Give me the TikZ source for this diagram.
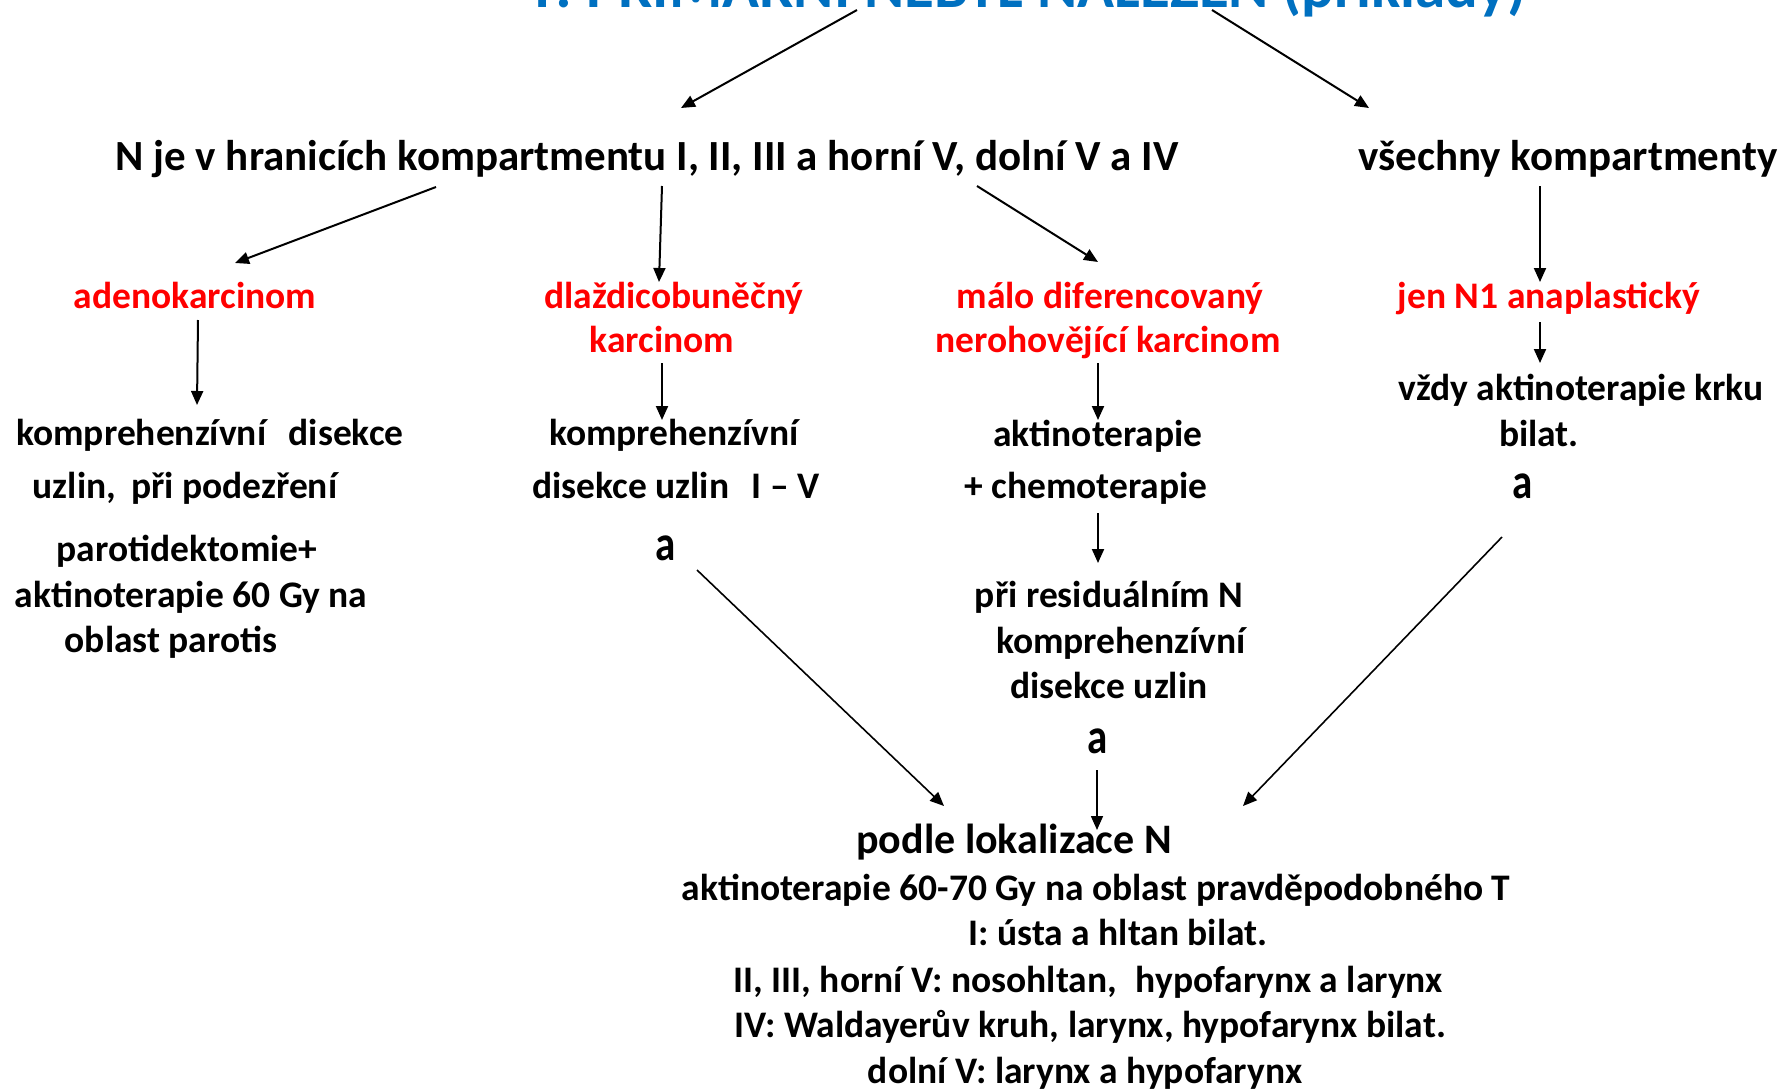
\documentclass[tikz,border=0pt]{standalone}
\usepackage{fontspec}
\setmainfont{Carlito}
\usetikzlibrary{arrows.meta}
\definecolor{titleblue}{HTML}{0070C0}
\definecolor{redlbl}{HTML}{FF0000}
\begin{document}
\begin{tikzpicture}[x=1pt,y=-1pt,
  txt/.style={anchor=base,inner sep=0pt,font=\bfseries\fontsize{37.5}{44}\selectfont},
  big/.style={txt,font=\bfseries\fontsize{42}{50}\selectfont},
  biga/.style={anchor=base,inner sep=0pt,font=\bfseries\fontsize{50}{58}\selectfont,xscale=0.82},
  red/.style={txt,text=redlbl},
  arr/.style={-{Triangle[length=14pt,width=12pt]},line width=2pt},
  thinarr/.style={-{Triangle[length=14pt,width=12pt]},line width=1.6pt}]
\clip (0,0) rectangle (1792,1092);
\fill[white] (0,0) rectangle (1792,1092);
% title
\node[txt,font=\bfseries\fontsize{61}{70}\selectfont,text=titleblue] (title) at (1027,8) {T: PRIMÁRNÍ NEBYL NALEZEN (příklady)};
% level 1
\node[txt,font=\bfseries\fontsize{43}{50}\selectfont] (m1) at (647,170) {N je v hranicích kompartmentu I, II, III a horní V, dolní V a IV};
\node[txt,font=\bfseries\fontsize{43}{50}\selectfont] (m2) at (1568,170) {všechny kompartmenty};
% red labels
\node[red] (r1) at (195,308) {adenokarcinom};
\node[red] (r2a) at (674,308) {dlaždicobuněčný};
\node[red] (r2b) at (662,352) {karcinom};
\node[red] (r3a) at (1110,308) {málo diferencovaný};
\node[red] (r3b) at (1108,352) {nerohovějící karcinom};
\node[red] (r4) at (1549,308) {jen N1 anaplastický};
% column 1
\node[txt] (a1) at (210,445) {komprehenzívní\hspace{0.6em}disekce};
\node[txt] (a2) at (185,498) {uzlin,\hspace{0.4em}při podezření};
\node[txt] (a3) at (187,561) {parotidektomie+};
\node[txt] (a4) at (191,607) {aktinoterapie 60 Gy na};
\node[txt] (a5) at (171,652) {oblast parotis};
% column 2
\node[txt] (b1) at (674,445) {komprehenzívní};
\node[txt] (b2) at (676,498) {disekce uzlin\hspace{0.6em}I – V};
\node[biga] (b3) at (666,560) {a};
% column 3
\node[txt] (c1) at (1098,446) {aktinoterapie};
\node[txt] (c2) at (1086,498) {+ chemoterapie};
\node[txt] (c3) at (1109,607) {při residuálním N};
\node[txt] (c4) at (1121,653) {komprehenzívní};
\node[txt] (c5) at (1109,698) {disekce uzlin};
\node[biga] (c6) at (1098,753) {a};
% column 4
\node[txt] (d1) at (1581,400) {vždy aktinoterapie krku};
\node[txt] (d2) at (1539,446) {bilat.};
\node[biga] (d3) at (1523,498) {a};
% bottom
\node[big] (e1) at (1014,853) {podle lokalizace N};
\node[txt] (e2) at (1096,900) {aktinoterapie 60-70 Gy na oblast pravděpodobného T};
\node[txt] (e3) at (1118,945) {I: ústa a hltan bilat.};
\node[txt] (e4) at (1088,992) {II, III, horní V: nosohltan,\hspace{0.5em}hypofarynx a larynx};
\node[txt] (e5) at (1090,1037) {IV: Waldayerův kruh, larynx, hypofarynx bilat.};
\node[txt] (e6) at (1085,1083) {dolní V: larynx a hypofarynx};
% connector end points
\coordinate (tL) at (857,10);   \coordinate (m1T) at (681,108);
\coordinate (tR) at (1212,10);  \coordinate (m2T) at (1369,108);
\coordinate (m1a) at (436,187); \coordinate (r1T) at (235,263);
\coordinate (m1b) at (662,186); \coordinate (r2T) at (659,282);
\coordinate (m1c) at (977,186); \coordinate (r3T) at (1098,262);
\coordinate (m2a) at (1540,186);\coordinate (r4T) at (1540,282);
\coordinate (r1B) at (198,320); \coordinate (a1T) at (197,405);
\coordinate (r2B) at (662,363); \coordinate (b1T) at (662,420);
\coordinate (r3B) at (1098,363);\coordinate (c1T) at (1098,420);
\coordinate (r4B) at (1540,322);\coordinate (d1T) at (1540,363);
\coordinate (c2B) at (1098,513);\coordinate (c3T) at (1098,563);
\coordinate (b3B) at (697,570); \coordinate (e1L) at (944,806);
\coordinate (c6B) at (1097,770);\coordinate (e1T) at (1097,830);
\coordinate (d3B) at (1502,537);\coordinate (e1R) at (1243,806);
\draw[arr] (tL) -- (m1T);
\draw[arr] (tR) -- (m2T);
\draw[arr] (m1a) -- (r1T);
\draw[arr] (m1b) -- (r2T);
\draw[arr] (m1c) -- (r3T);
\draw[arr] (m2a) -- (r4T);
\draw[arr] (r1B) -- (a1T);
\draw[arr] (r2B) -- (b1T);
\draw[arr] (r3B) -- (c1T);
\draw[arr] (r4B) -- (d1T);
\draw[arr] (c2B) -- (c3T);
\draw[thinarr] (b3B) -- (e1L);
\draw[thinarr] (c6B) -- (e1T);
\draw[thinarr] (d3B) -- (e1R);
\end{tikzpicture}
\end{document}
